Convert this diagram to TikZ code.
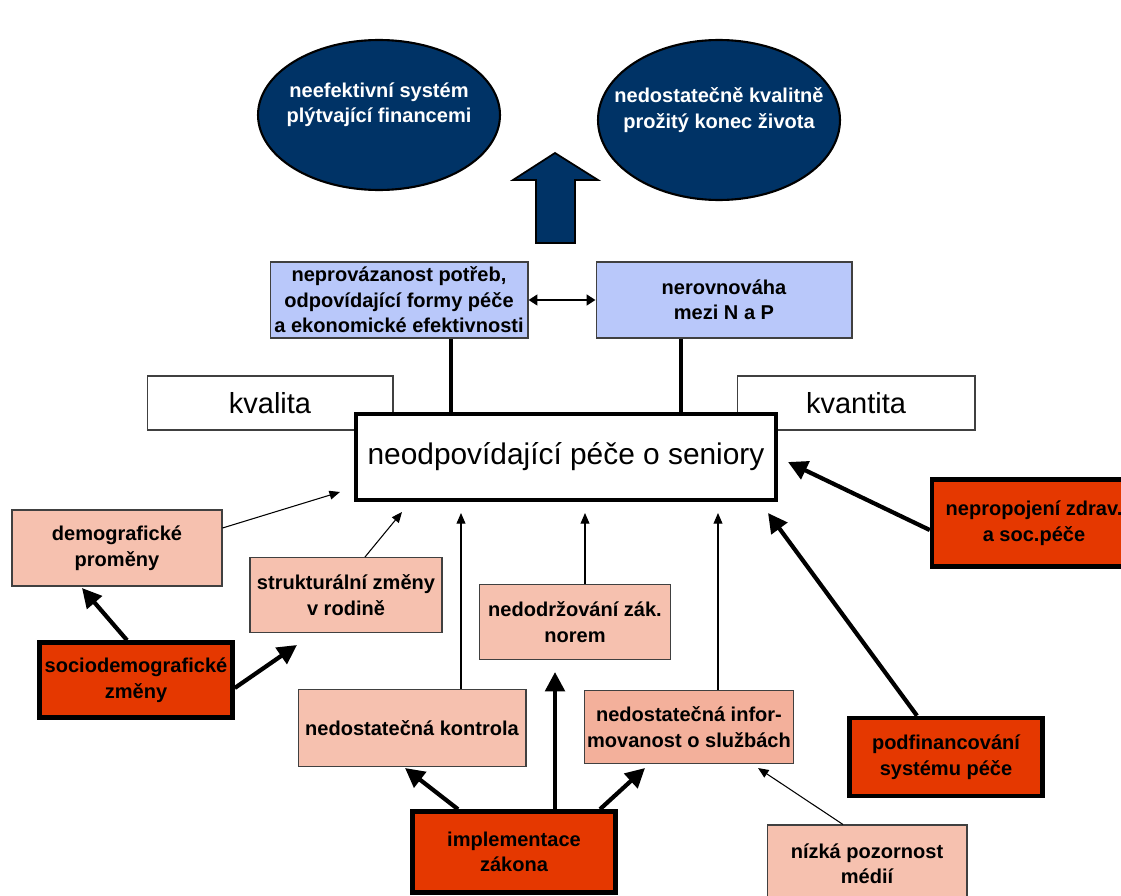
\documentclass[tikz,border=0pt]{standalone}
\usepackage{fontspec}
\setmainfont{Liberation Sans}
\usetikzlibrary{arrows.meta,shapes.geometric}
\definecolor{navy}{RGB}{0,51,102}
\definecolor{lblue}{RGB}{185,200,250}
\definecolor{salmon}{RGB}{246,193,175}
\definecolor{salmondark}{RGB}{243,176,155}
\definecolor{redor}{RGB}{229,56,0}
\newcommand\boxfont{\bfseries\fontsize{11.4}{14.5}\selectfont}
\begin{document}
\begin{tikzpicture}[x=0.02cm,y=-0.02cm,>={Triangle[width=5pt,length=6pt]},
	box/.style={draw=black!75,line width=0.6pt,fill=salmon,font=\boxfont,align=center,inner sep=1pt},
	bluebox/.style={box,fill=lblue},
	cause/.style={box,fill=redor,draw=black,line width=2.6pt},
	plain/.style={draw=black!75,line width=0.6pt,fill=white,font=\fontsize{16.5}{19}\selectfont},
	oval/.style={ellipse,draw=black,line width=1.2pt,fill=navy,inner sep=0pt},
	lnk/.style={->,line width=0.6pt},
	hvy/.style={-{Triangle[width=11pt,length=11pt]},line width=2.4pt}]
	\fill[white] (0,0) rectangle (1121,895);
	\clip (0,0) rectangle (1121,895);
	% results
	\node[oval,minimum width=4.84cm,minimum height=3cm,label={[yshift=5.7pt,white,font=\boxfont,align=center]center:neefektivní systém\\plýtvající financemi}] (eFin) at (379,115) {};
	\node[oval,minimum width=4.84cm,minimum height=3.2cm,label={[yshift=5.7pt,white,font=\boxfont,align=center]center:nedostatečně kvalitně\\prožitý konec života}] (eEnd) at (719,120) {};
	\draw[fill=navy,line width=1pt] (536,243)--(536,180)--(513,180)--(555,153)--(598,180)--(575,180)--(575,243)--cycle;
	% middle
	\node[bluebox,minimum width=5.16cm,minimum height=1.52cm] (prov) at (399,300) {neprovázanost potřeb,\\odpovídající formy péče\\a ekonomické efektivnosti};
	\node[bluebox,minimum width=5.12cm,minimum height=1.52cm] (nerov) at (724,300) {nerovnováha\\mezi N a P};
	\draw[{Triangle[width=6pt,length=5pt]}-{Triangle[width=6pt,length=5pt]},line width=1.6pt] (prov) -- (nerov);
	\node[plain,minimum width=4.92cm,minimum height=1.08cm] (kval) at (270,403) {kvalita};
	\node[plain,minimum width=4.76cm,minimum height=1.08cm] (kvan) at (856,403) {kvantita};
	\node[draw,line width=1.8pt,fill=white,minimum width=8.4cm,minimum height=1.72cm,font=\fontsize{17}{20}\selectfont] (pece) at (566,457) {neodpovídající péče o seniory};
	\draw[line width=1.8pt] ([shift={(52,0)}]prov.south) -- ([shift={(52,0)}]prov.south |- pece.north);
	\draw[line width=1.8pt] ([shift={(-43,0)}]nerov.south) -- ([shift={(-43,0)}]nerov.south |- pece.north);
	% causes
	\node[box,minimum width=4.2cm,minimum height=1.52cm] (demo) at (117,548) {demografické\\proměny};
	\node[box,minimum width=3.84cm,minimum height=1.5cm] (strukt) at (346,595) {strukturální změny\\v rodině};
	\node[cause,minimum width=3.86cm,minimum height=1.5cm] (socio) at (136,680) {sociodemografické\\změny};
	\node[box,minimum width=3.82cm,minimum height=1.5cm] (nedodr) at (575,622) {nedodržování zák.\\norem};
	\node[box,minimum width=4.56cm,minimum height=1.54cm] (kontr) at (412,728) {nedostatečná kontrola};
	\node[box,fill=salmondark,minimum width=4.18cm,minimum height=1.46cm] (inform) at (689,727) {nedostatečná infor-\\movanost o službách};
	\node[cause,minimum width=4.08cm,minimum height=1.74cm] (nepro) at (1034,523) {nepropojení zdrav.\\a soc.péče};
	\node[cause,minimum width=3.86cm,minimum height=1.56cm] (podfin) at (946,757) {podfinancování\\systému péče};
	\node[cause,minimum width=4.06cm,minimum height=1.62cm] (impl) at (514,852) {implementace\\zákona};
	\node[box,minimum width=4cm,minimum height=1.56cm] (media) at (867,864) {nízká pozornost\\médií};
	\path (340,492)coordinate(tDemo) (402,512)coordinate(tStrukt) (461,513)coordinate(tKontr)
		(585,513)coordinate(tNedodr) (718,513)coordinate(tInform) (768,513)coordinate(tPodfin)
		(788,462)coordinate(tNepro) (82,588)coordinate(tSocDemo) (297,645)coordinate(tSocStr)
		(405,768)coordinate(tImplK) (555,672)coordinate(tImplN) (645,768)coordinate(tImplI) (758,768)coordinate(tMedia);
	\draw[lnk] ([shift={(0,-20)}]demo.east) -- (tDemo);
	\draw[lnk] ([shift={(19,0)}]strukt.north) -- (tStrukt);
	\foreach \src/\dst in {kontr/tKontr,nedodr/tNedodr,inform/tInform} \draw[lnk] (\src.north -| \dst) -- (\dst);
	\draw[lnk] ([shift={(-24,0)}]media.north) -- (tMedia);
	\draw[hvy] ([shift={(-29,0)}]podfin.north) -- (tPodfin);
	\draw[hvy] ([shift={(0,7)}]nepro.west) -- (tNepro);
	\draw[hvy] ([shift={(-9,0)}]socio.north) -- (tSocDemo);
	\draw[hvy] ([shift={(0,8)}]socio.east) -- (tSocStr);
	\draw[hvy] ([shift={(-56,0)}]impl.north) -- (tImplK);
	\draw[hvy] (impl.north -| tImplN) -- (tImplN);
	\draw[hvy] ([shift={(86,0)}]impl.north) -- (tImplI);
\end{tikzpicture}
\end{document}
